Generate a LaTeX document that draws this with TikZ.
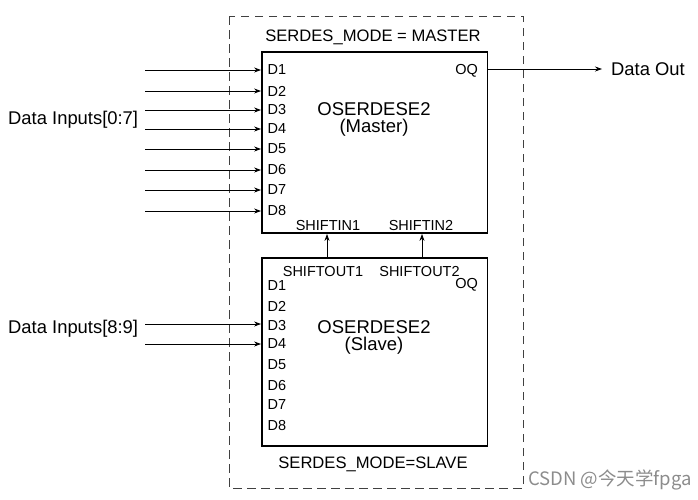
\documentclass[tikz,border=0pt]{standalone}
\usepackage{fontspec}
\setmainfont{Liberation Sans}
\newfontfamily\cjk{Noto Sans CJK SC}
\usetikzlibrary{arrows.meta}
\begin{document}
\begin{tikzpicture}[x=1pt,y=-1pt,
  blk/.style={draw=black,line width=1.8pt,minimum width=225.5pt,inner sep=0pt},
  arr/.style={line width=0.8pt,-{Stealth[length=7pt,width=5pt]}},
  pin/.style={inner sep=0pt,font=\fontsize{14.5}{16}\selectfont},
  big/.style={inner sep=0pt,font=\fontsize{18.4}{18}\selectfont},
  mode/.style={inner sep=0pt,font=\fontsize{16.6}{18}\selectfont},
  ttl/.style={inner sep=0pt,font=\fontsize{18.5}{18}\selectfont},
  frame/.style={draw=black!75,line width=0.9pt,dash pattern=on 8.5pt off 5.5pt},
  wm/.style={inner sep=0pt,text=black!45,font=\fontsize{18.5}{19}\cjk}]
\useasboundingbox (0,0) rectangle (698,499);
% outer dashed frame
\draw[frame] (229,16) rectangle (523,488);
% blocks
\node[blk,minimum height=181pt] (M) at (374.75,142.5) {};
\node[blk,minimum height=188pt] (S) at (374.75,352) {};
% titles
\node[ttl] (Mt1) at (374,109) {OSERDESE2};
\node[ttl] (Mt2) at (374,128) {(Master)};
\node[ttl] (St1) at (374,327) {OSERDESE2};
\node[ttl] (St2) at (374,346) {(Slave)};
\node[mode] (Mm) at (373,37) {SERDES\_MODE = MASTER};
\node[mode] (Sm) at (373,464) {SERDES\_MODE=SLAVE};
% master pins
\foreach \i/\y in {1/70,2/91,3/110,4/129,5/149,6/170,7/190,8/211}{
  \node[pin,anchor=west] (MD\i) at (267.5,\y) {D\i};
  \coordinate (mi\i) at (145,\y);
  \draw[arr] (mi\i) -- (mi\i -| M.west);
}
\node[pin,anchor=east] (MOQ) at (478,71) {OQ};
\node[pin] (SI1) at (328,226) {SHIFTIN1};
\node[pin] (SI2) at (421,226) {SHIFTIN2};
% slave pins
\foreach \i/\y in {1/285.5,2/306.5,3/325,4/344,5/365,6/385.5,7/405,8/425.5}{
  \node[pin,anchor=west] (SD\i) at (267.5,\y) {D\i};
}
\node[pin,anchor=east] (SOQ) at (478,285) {OQ};
\node[pin] (SO1) at (323,272) {SHIFTOUT1};
\node[pin] (SO2) at (419.5,272) {SHIFTOUT2};
\coordinate (si3) at (145,324);
\coordinate (si4) at (145,344);
\draw[arr] (si3) -- (si3 -| S.west);
\draw[arr] (si4) -- (si4 -| S.west);
% shift connections
\coordinate (c1) at (327,0);
\coordinate (c2) at (422,0);
\draw[arr] (c1 |- S.north) -- (c1 |- M.south);
\draw[arr] (c2 |- S.north) -- (c2 |- M.south);
% labels
\node[big,anchor=west] (DI07) at (8,120) {Data Inputs[0:7]};
\node[big,anchor=west] (DI89) at (8,329) {Data Inputs[8:9]};
\node[big,anchor=west] (DO) at (611,69) {Data Out};
\draw[arr] (M.east |- DO.west) -- ([xshift=-9pt]DO.west);
% watermark
\node[wm,anchor=east] (W) at (692,480) {CSDN @今天学fpga};
\end{tikzpicture}
\end{document}
